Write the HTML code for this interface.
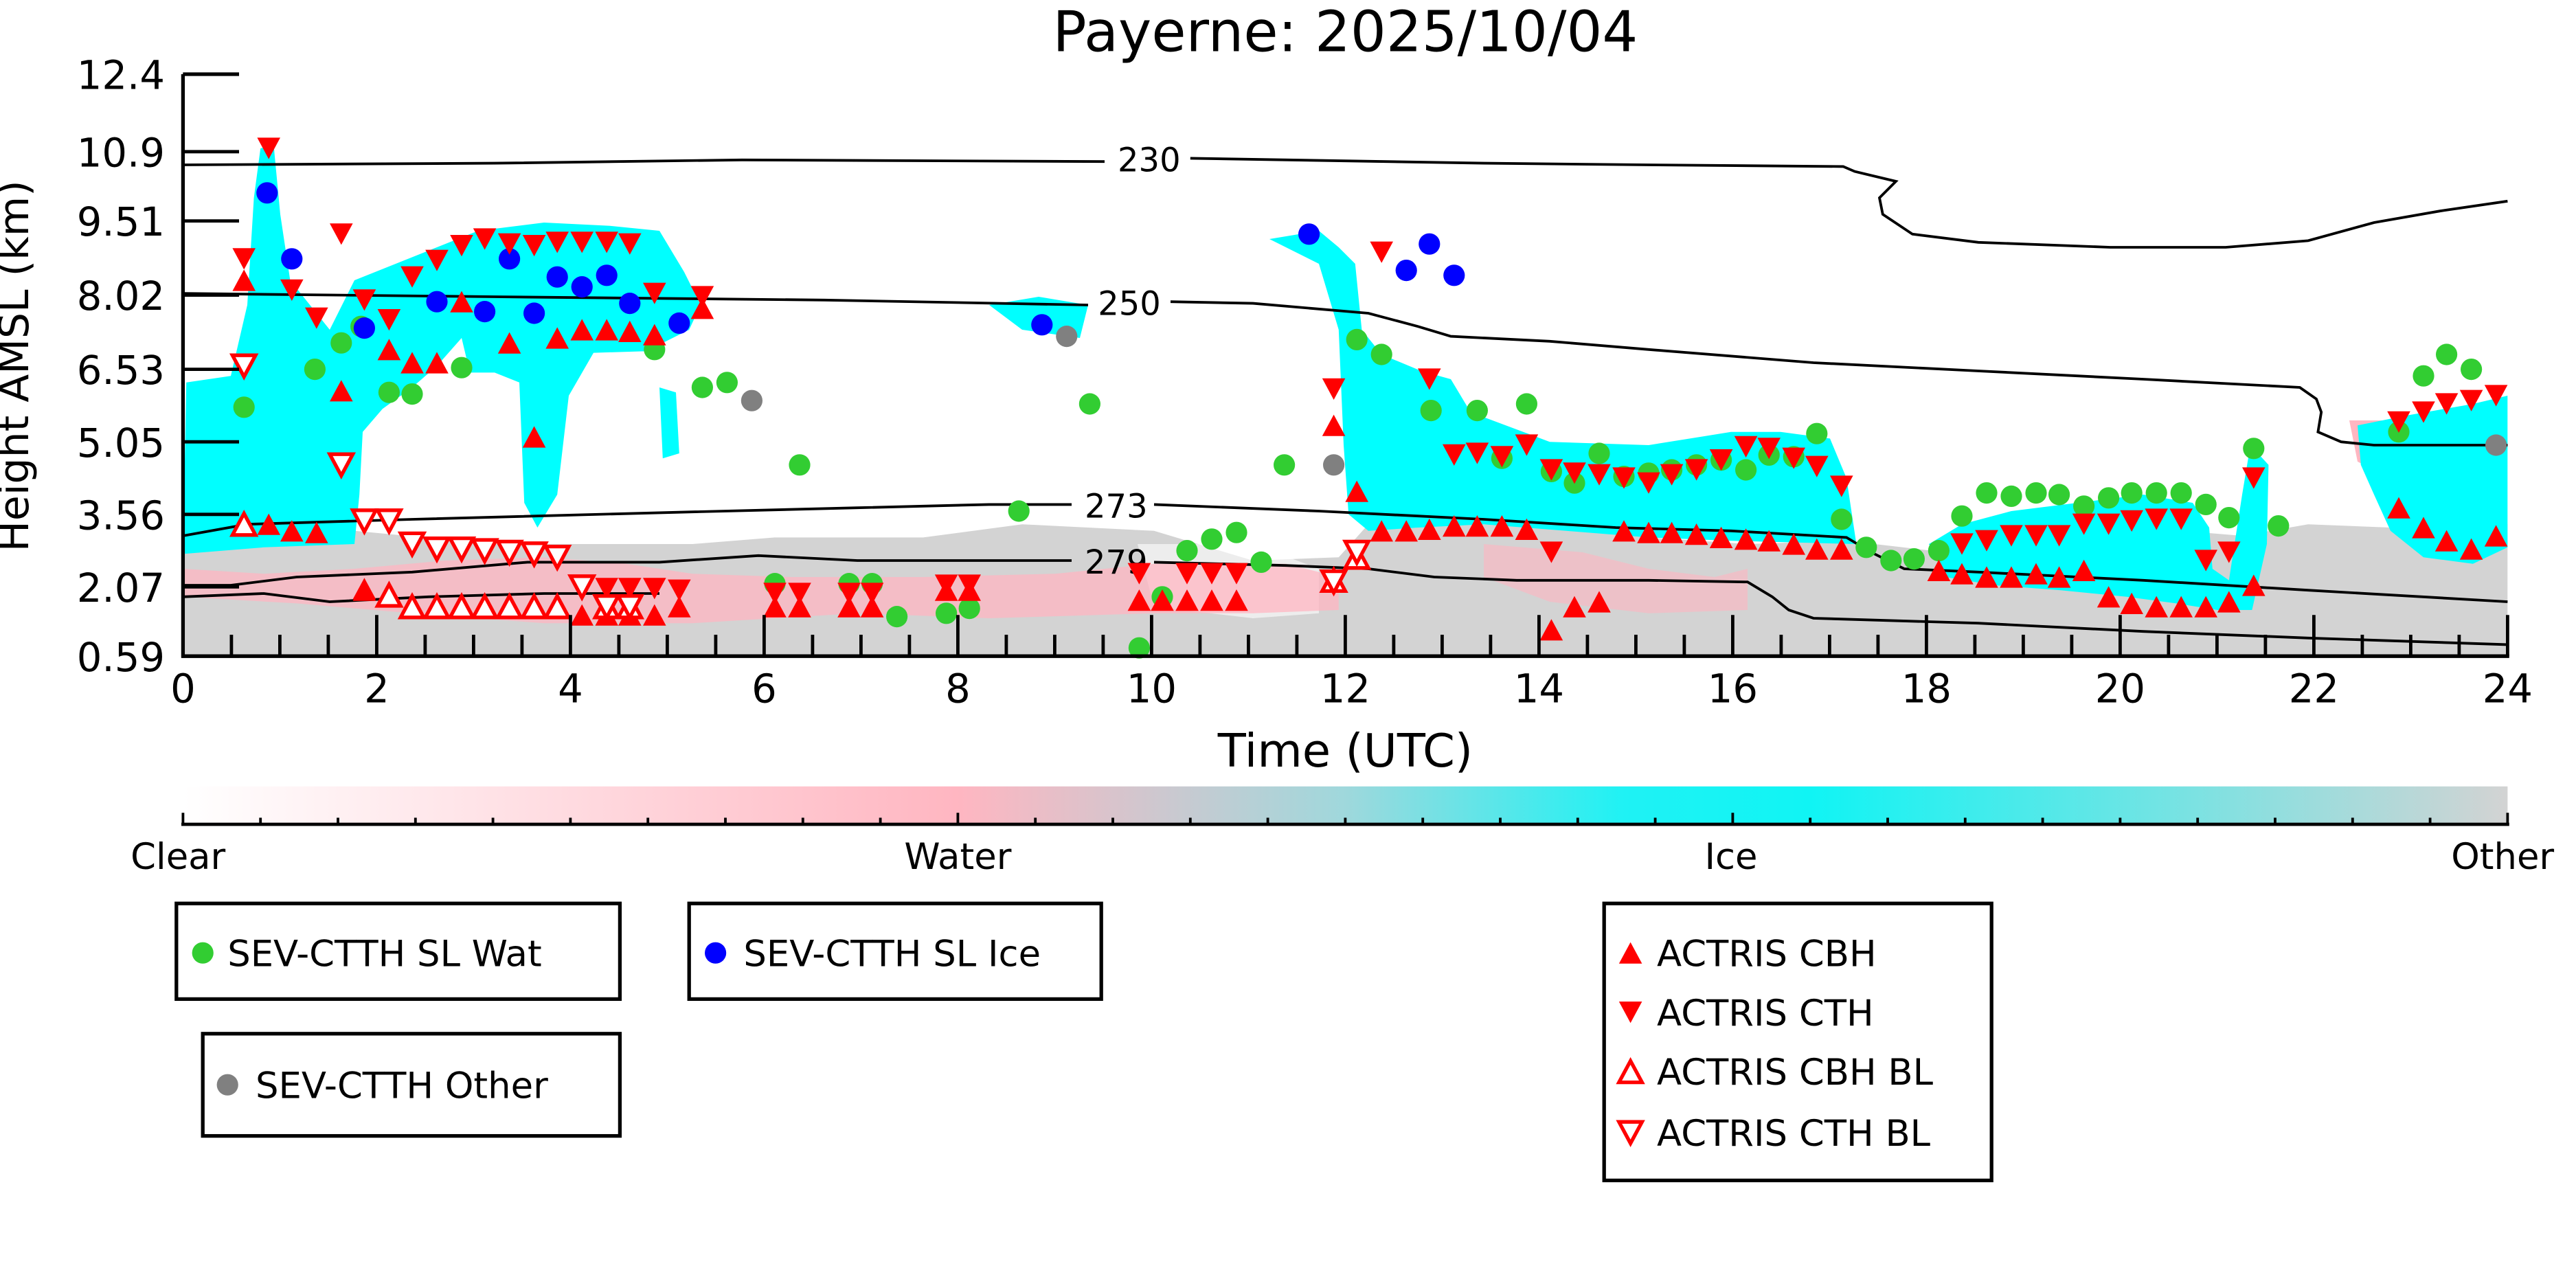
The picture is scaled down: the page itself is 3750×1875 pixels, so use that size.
<!DOCTYPE html>
<html><head><meta charset="utf-8"><style>
html,body{margin:0;padding:0;background:#fff;}
svg{display:block;}
text{font-family:"DejaVu Sans","Liberation Sans",sans-serif;fill:#000;}
</style></head><body>
<svg id="s" width="3750" height="1875" viewBox="0 0 1562.5 781.25" xmlns="http://www.w3.org/2000/svg">
<defs>
<linearGradient id="cb" x1="0" x2="1" y1="0" y2="0">
<stop offset="0" stop-color="#ffffff"/>
<stop offset="0.333" stop-color="#ffb6c1"/>
<stop offset="0.5" stop-color="#9fd8dc"/>
<stop offset="0.62" stop-color="#1ff2f4"/>
<stop offset="0.7" stop-color="#10f4f4"/>
<stop offset="1" stop-color="#d3d3d3"/>
</linearGradient>
<clipPath id="ax"><rect x="111" y="45" width="1410" height="353"/></clipPath>
</defs>
<text x="816" y="31" font-size="34" text-anchor="middle">Payerne: 2025/10/04</text>

<g clip-path="url(#ax)">
<!-- gray other -->
<polygon fill="#d3d3d3" points="111,318 160,318 215,322 300,330 420,330 470,326 560,326 620,318 700,322 760,340 812,338 830,318 900,318 960,320 1000,326 1060,330 1120,328 1180,335 1260,330 1300,320 1360,325 1400,318 1450,320 1521,318 1521,398 111,398"/>
<polygon fill="#fff" opacity="0.6" points="690,330 760,330 800,345 800,372 760,375 700,368"/>
<!-- pink water -->
<polygon fill="#ffb6c1" opacity="0.75" points="111,345 160,348 215,345 270,340 330,338 380,342 420,348 480,350 560,350 640,348 700,342 780,342 812,350 812,370 760,372 700,372 600,375 520,372 420,378 330,378 250,372 180,366 111,362"/>
<polygon fill="#ffb6c1" opacity="0.6" points="900,330 960,335 1000,345 1040,350 1060,345 1060,370 1000,372 940,365 900,350"/>
<polygon fill="#ffb6c1" points="1425,255 1460,255 1480,262 1450,290 1430,280"/>
<!-- cyan ice -->
<g fill="#00ffff">
<polygon points="113,232 140,228 150,185 154,120 158,90 166,88 170,130 176,170 200,200 215,170 240,160 265,150 290,140 330,135 370,137 400,140 415,165 425,185 418,200 392,213 360,214 345,240 338,300 326,320 318,305 315,232 300,226 285,226 280,205 265,222 250,235 232,248 220,262 218,300 215,330 160,332 111,336"/>
<polygon points="770,145 800,140 812,150 822,160 826,200 838,215 862,225 880,230 892,250 940,268 1000,270 1050,262 1080,262 1110,266 1120,290 1126,330 1050,328 1000,326 950,322 900,318 860,320 830,322 818,312 815,270 812,200 800,160"/>
<polygon points="1170,330 1190,318 1220,310 1260,305 1300,300 1330,305 1340,320 1342,345 1352,352 1360,300 1365,270 1376,282 1375,330 1366,370 1345,370 1320,366 1290,362 1250,358 1210,355 1180,350"/>
<polygon points="1430,258 1460,252 1500,245 1521,240 1521,332 1500,342 1470,338 1450,322 1440,300 1432,282"/>
<polygon points="600,185 630,180 660,185 655,205 620,200"/>
<polygon points="400,235 410,238 412,275 402,278"/>
</g>
</g>

<!-- contours -->
<g fill="none" stroke="#000" stroke-width="1.6">
<polyline points="111,100 300,99 450,97 670,98"/>
<polyline points="722,96 900,99 1000,100 1118,101 1125,104 1150,110 1140,120 1142,130 1160,142 1200,147 1280,150 1350,150 1400,146 1440,135 1480,128 1521,122"/>
<polyline points="111,178 300,180 500,182 660,185"/>
<polyline points="710,183 760,184 830,190 860,198 880,204 940,207 1000,212 1100,220 1200,225 1300,230 1395,235 1405,242 1408,250 1406,262 1420,268 1440,270 1521,270"/>
<polyline points="111,325 150,318 250,315 400,311 520,308 600,306 650,306"/>
<polyline points="700,306 800,310 900,315 980,320 1050,322 1120,326 1135,335 1155,345 1200,347 1300,352 1400,358 1521,365"/>
<polyline points="111,355 140,355 180,350 250,347 320,341 400,341 460,337 520,340 650,340"/>
<polyline points="700,341 780,343 830,345 870,350 920,352 1000,352 1060,353 1075,362 1085,370 1100,375 1200,378 1300,383 1400,387 1521,391"/>
<polyline points="111,362 160,360 200,365 260,362 330,360 400,360"/>
</g>
<g font-size="20" text-anchor="middle">
<text x="697" y="104">230</text>
<text x="685" y="191">250</text>
<text x="677" y="314">273</text>
<text x="677" y="348">279</text>
</g>

<g id="mk"></g>

<!-- axes -->
<g stroke="#000" stroke-width="2.2" fill="none">
<line x1="111" y1="45" x2="111" y2="399"/>
<line x1="110" y1="398" x2="1522" y2="398"/>
<line x1="111" y1="45" x2="145" y2="45"/>
</g>
<g id="ticks" stroke="#000" stroke-width="2"></g>
<g font-size="24" text-anchor="end" id="yl"></g>
<g font-size="24" text-anchor="middle" id="xl"></g>
<text x="816" y="465" font-size="28" text-anchor="middle">Time (UTC)</text>
<text transform="translate(17,222) rotate(-90)" font-size="25" text-anchor="middle">Height AMSL (km)</text>

<!-- colorbar -->
<rect x="111" y="477" width="1410" height="23" fill="url(#cb)"/>
<line x1="110" y1="500" x2="1522" y2="500" stroke="#000" stroke-width="2"/>
<g id="cbt" stroke="#000" stroke-width="1.6"></g>
<g font-size="22" text-anchor="middle">
<text x="108" y="527">Clear</text>
<text x="581" y="527">Water</text>
<text x="1050" y="527">Ice</text>
<text x="1518" y="527">Other</text>
</g>

<!-- legends -->
<g fill="#fff" stroke="#000" stroke-width="2.2">
<rect x="107" y="548" width="269" height="58"/>
<rect x="418" y="548" width="250" height="58"/>
<rect x="123" y="627" width="253" height="62"/>
<rect x="973" y="548" width="235" height="168"/>
</g>
<g font-size="22">
<circle cx="123" cy="578" r="6.5" fill="#32cd32"/><text x="138" y="586">SEV-CTTH SL Wat</text>
<circle cx="434" cy="578" r="6.5" fill="#0000ff"/><text x="451" y="586">SEV-CTTH SL Ice</text>
<circle cx="138" cy="658" r="6.5" fill="#808080"/><text x="155" y="666">SEV-CTTH Other</text>
<text x="1005" y="586">ACTRIS CBH</text>
<text x="1005" y="622">ACTRIS CTH</text>
<text x="1005" y="658">ACTRIS CBH BL</text>
<text x="1005" y="695">ACTRIS CTH BL</text>
</g>
<g id="lg"></g>
</svg>
<script>
const NS="http://www.w3.org/2000/svg";
function el(p,t,a){const e=document.createElementNS(NS,t);for(const k in a)e.setAttribute(k,a[k]);document.getElementById(p).appendChild(e);return e;}
for(let i=0;i<=48;i++){const x=111+i*29.375;const maj=i%4==0;el("ticks","line",{x1:x,y1:398,x2:x,y2:398-(maj?25:13)});}
const yt=[["12.4",45],["10.9",92],["9.51",134],["8.02",179],["6.53",224],["5.05",268],["3.56",312],["2.07",356],["0.59",398]];
yt.forEach(([t,y])=>{el("ticks","line",{x1:111,y1:y,x2:145,y2:y});const e=el("yl","text",{x:100,y:y+9});e.textContent=t;});
for(let i=0;i<=12;i++){const e=el("xl","text",{x:111+i*117.5,y:426});e.textContent=String(i*2);}
for(let i=0;i<=30;i++){const x=111+i*47;const maj=i%10==0;el("cbt","line",{x1:x,y1:500,x2:x,y2:500-(maj?7:4)});}
function tri(g,x,y,up,fill){const w=7,h=6.5;const pts=up?`${x-w},${y+h} ${x+w},${y+h} ${x},${y-h}`:`${x-w},${y-h} ${x+w},${y-h} ${x},${y+h}`;
 el(g,"polygon",fill?{points:pts,fill:"#ff0000"}:{points:pts,fill:"#fff",stroke:"#ff0000","stroke-width":2.2});}
const G=[[148,247],[207,208],[191,224],[219,198],[236,238],[250,239],[280,223],[397,212],[426,235],[441,232],[485,282],[470,354],[515,354],[529,354],[544,374],[574,372],[588,369],[618,310],[661,245],[691,393],[705,362],[720,334],[735,327],[750,323],[765,341],[779,282],[823,206],[838,215],[868,249],[896,249],[911,278],[926,245],[941,286],[955,293],[970,275],[985,289],[1000,287],[1014,285],[1029,282],[1044,279],[1059,285],[1073,276],[1088,277],[1102,263],[1117,315],[1132,332],[1147,340],[1161,339],[1176,334],[1190,313],[1205,299],[1220,301],[1235,299],[1249,300],[1264,307],[1279,302],[1293,299],[1308,299],[1323,299],[1338,306],[1352,314],[1367,272],[1382,319],[1455,262],[1470,228],[1484,215],[1499,224]];
const B=[[162,117],[177,157],[221,199],[265,183],[294,189],[309,157],[324,190],[338,168],[353,174],[368,167],[382,184],[412,196],[632,197],[794,142],[853,164],[867,148],[882,167]];
const O=[[456,243],[647,204],[809,282],[1514,270]];
const CTH=[[148,157],[163,90],[177,176],[192,193],[207,142],[221,182],[236,194],[250,168],[265,158],[280,149],[294,145],[309,148],[324,149],[338,147],[353,147],[368,147],[382,148],[397,178],[426,180],[809,236],[838,153],[867,230],[882,276],[896,275],[911,277],[926,270],[941,285],[955,287],[970,288],[985,290],[1000,293],[1014,288],[1029,285],[1044,279],[1059,271],[1073,272],[1088,278],[1102,283],[1117,295],[1190,330],[1205,328],[1220,325],[1235,325],[1249,325],[1264,318],[1279,318],[1293,316],[1308,315],[1323,315],[1338,340],[1352,335],[1367,290],[1455,256],[1470,250],[1484,245],[1499,243],[1514,240],[353,357],[368,357],[382,357],[397,357],[412,358],[470,360],[485,360],[515,360],[529,360],[574,355],[588,355],[691,348],[720,348],[735,348],[750,348],[941,335]];
const CBH=[[148,170],[163,318],[177,322],[192,323],[207,237],[221,357],[236,212],[250,220],[265,220],[280,183],[309,208],[324,265],[338,205],[353,200],[368,200],[382,201],[397,203],[426,187],[412,368],[353,373],[368,373],[382,373],[397,373],[470,368],[485,368],[515,368],[529,368],[574,358],[588,358],[691,364],[705,364],[720,364],[735,364],[750,364],[809,258],[823,298],[838,322],[853,322],[867,321],[882,319],[896,319],[911,319],[926,321],[941,382],[955,368],[970,365],[985,322],[1000,323],[1014,323],[1029,324],[1044,326],[1059,327],[1073,328],[1088,330],[1102,333],[1117,333],[1176,346],[1190,348],[1205,350],[1220,350],[1235,348],[1249,350],[1264,346],[1279,362],[1293,366],[1308,368],[1323,368],[1338,368],[1352,365],[1367,355],[1455,308],[1470,320],[1484,328],[1499,333],[1514,325],[221,358]];
const CBHBL=[[148,318],[236,361],[250,368],[265,368],[280,368],[294,368],[309,368],[324,368],[338,368],[368,368],[382,368],[809,352],[823,338]];
const CTHBL=[[148,222],[207,282],[221,316],[236,316],[250,330],[265,333],[280,333],[294,334],[309,335],[324,336],[338,338],[353,356],[368,368],[382,368],[809,353],[823,335]];
G.forEach(([x,y])=>el("mk","circle",{cx:x,cy:y,r:6.5,fill:"#32cd32"}));
B.forEach(([x,y])=>el("mk","circle",{cx:x,cy:y,r:6.5,fill:"#0000ff"}));
O.forEach(([x,y])=>el("mk","circle",{cx:x,cy:y,r:6.5,fill:"#808080"}));
CTH.forEach(([x,y])=>tri("mk",x,y,false,true));
CBH.forEach(([x,y])=>tri("mk",x,y,true,true));
CBHBL.forEach(([x,y])=>tri("mk",x,y,true,false));
CTHBL.forEach(([x,y])=>tri("mk",x,y,false,false));
tri("lg",989,578,true,true);tri("lg",989,614,false,true);tri("lg",989,650,true,false);tri("lg",989,687,false,false);
</script>
</body></html>
